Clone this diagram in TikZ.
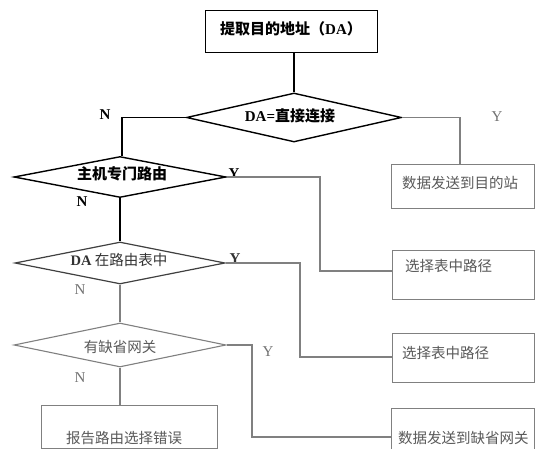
\documentclass[tikz,border=0pt]{standalone}
\usepackage{fontspec}
\setmainfont{Liberation Serif}
\newfontfamily\cjk{Noto Sans CJK SC}
\usetikzlibrary{shapes.geometric}
\begin{document}
\begin{tikzpicture}[x=1pt,y=-1pt,
  blk/.style={draw=black,line width=1.4pt},
  dgr/.style={draw=black!75,line width=1.2pt},
  gry/.style={draw=black!50,line width=1.1pt},
  boxs/.style={rectangle,inner sep=0pt,anchor=north west},
  dia/.style={diamond,inner sep=0pt,aspect=5},
  ttop/.style={font=\fontsize{15}{15}\selectfont\cjk\bfseries,text=black,inner sep=0pt},
  tlow/.style={font=\fontsize{14.5}{15}\selectfont\cjk,text=black!65,inner sep=0pt},
  labb/.style={font=\fontsize{15}{15}\selectfont\bfseries,text=black,inner sep=0pt},
  labg/.style={font=\fontsize{15}{15}\selectfont,text=black!55,inner sep=0pt},
]
\clip (0,0) rectangle (536,449);
\fill[white] (0,0) rectangle (536,449);

% boxes
\node[boxs,blk,minimum width=172pt,minimum height=42pt] (b0) at (205,10) {};
\node[boxs,gry,minimum width=143pt,minimum height=44pt] (b1) at (391,164) {};
\node[boxs,gry,minimum width=142pt,minimum height=49pt] (b2) at (392,250) {};
\node[boxs,gry,minimum width=142pt,minimum height=49pt] (b3) at (392,333) {};
\node[boxs,gry,minimum width=143pt,minimum height=60pt] (b4) at (391,408) {};
\node[boxs,gry,minimum width=176pt,minimum height=43pt] (b5) at (41,405) {};

% diamonds
\node[dia,blk,minimum width=215pt,minimum height=49pt] (d1) at (294,117.5) {};
\node[dia,blk,minimum width=212pt,minimum height=41pt] (d2) at (120,177) {};
\node[dia,dgr,minimum width=210pt,minimum height=42pt] (d3) at (120,263) {};
\node[dia,gry,minimum width=212pt,minimum height=44pt] (d4) at (120,345) {};

% texts
\node[ttop,anchor=west] (t0) at (220,29) {提取目的地址（{\rmfamily\bfseries DA}）};
\node[ttop] (t1) at (290,116) {{\rmfamily\bfseries DA=}直接连接};
\node[ttop] (t2) at (122,174) {主机专门路由};
\node[tlow,text=black!80] (t3) at (119,260) {{\rmfamily\bfseries DA} 在路由表中};
\node[tlow] (t4) at (120,347) {有缺省网关};
\node[tlow,anchor=west] (tb1) at (402,183) {数据发送到目的站};
\node[tlow,anchor=west] (tb2) at (405,266) {选择表中路径};
\node[tlow,anchor=west] (tb3) at (402,353) {选择表中路径};
\node[tlow,anchor=west] (tb4) at (398,438) {数据发送到缺省网关};
\node[tlow,anchor=west] (tb5) at (66,438) {报告路由选择错误};

% labels
\node[labb] (n1) at (105,115) {N};
\node[labg] (y1) at (497,117) {Y};
\node[labb] (y2) at (234,174) {Y};
\node[labb] (n2) at (82,202) {N};
\node[labb,text=black!80] (y3) at (235,259) {Y};
\node[labg] (n3) at (80,290) {N};
\node[labg] (y4) at (268,352) {Y};
\node[labg] (n4) at (80,378) {N};

% connector corner points
\coordinate (c1) at (122,117.5);
\coordinate (c2) at (460,117.5);
\coordinate (c3) at (320,271);
\coordinate (c4) at (300,357);
\coordinate (c5) at (252,437);

% connectors
\draw[blk] (b0.south -| d1.north) -- (d1.north);
\draw[blk] (d1.west) -- (c1) -- (c1 |- d2.north);
\draw[gry] (d1.east) -- (c2) -- (c2 |- b1.north);
\draw[blk] (d2.south) -- (d3.north);
\draw[gry] (d2.east) -| (c3) -- (c3 -| b2.west);
\draw[gry] (d3.south) -- (d4.north);
\draw[gry] (d3.east) -| (c4) -- (c4 -| b3.west);
\draw[gry] (d4.south) -- (d4.south |- b5.north);
\draw[gry] (d4.east) -| (c5) -- (c5 -| b4.west);
\end{tikzpicture}
\end{document}
